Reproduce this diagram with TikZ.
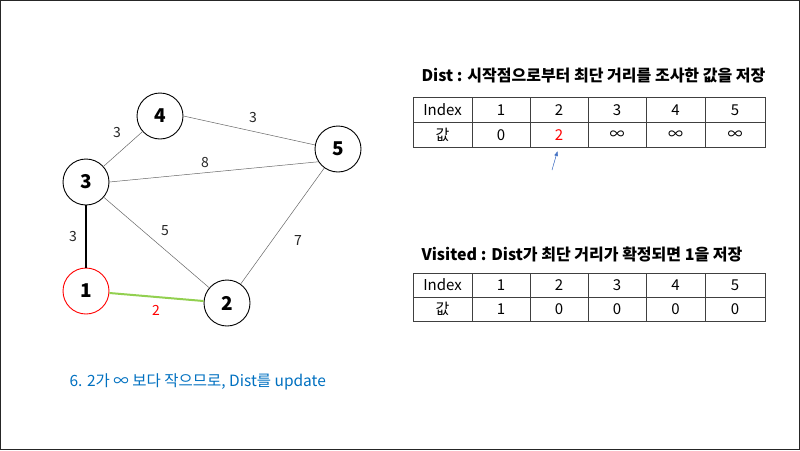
\documentclass[tikz,border=0pt]{standalone}
\usepackage{fontspec}
\setmainfont{Noto Sans CJK KR}
\usetikzlibrary{arrows.meta}
\definecolor{lgreen}{RGB}{146,208,80}
\definecolor{capblue}{RGB}{0,112,192}
\definecolor{arrblue}{RGB}{68,114,196}
\begin{document}
\begin{tikzpicture}[x=1pt,y=-1pt,
  vtx/.style={circle,draw=black,line width=0.9pt,minimum size=46pt,inner sep=0pt,font=\fontsize{19}{19}\selectfont\bfseries,fill=white},
  edge/.style={draw=black!60,line width=0.5pt},
  elab/.style={font=\fontsize{14}{14}\selectfont,text=black!85},
  ttl/.style={font=\fontsize{16}{16}\selectfont\bfseries,anchor=west},
  cell/.style={font=\fontsize{15}{15}\selectfont},
  grid/.style={draw=black!75,line width=0.9pt}]
\useasboundingbox (0,0) rectangle (800,450);
\draw[line width=1.2pt,black!85] (0.6,0.6) rectangle (799.4,449.4);
% graph
\node[vtx] (n4) at (160,116) {4};
\node[vtx] (n5) at (338,149) {5};
\node[vtx] (n3) at (86,182) {3};
\node[vtx,draw=red] (n1) at (86,291) {1};
\node[vtx] (n2) at (227,303) {2};
\draw[edge] (n3) -- (n4);
\draw[edge] (n4.east) -- (n5.170);
\draw[edge] (n3.east) -- (n5.213);
\draw[edge] (n3) -- (n2);
\draw[edge] (n5) -- (n2);
\draw[line width=1.8pt,black] (n3) -- (n1);
\draw[line width=2pt,lgreen] (n1) -- (n2);
\node[elab] (l43) at (117,133) {3};
\node[elab] (l45) at (253,118) {3};
\node[elab] (l35) at (205,163) {8};
\node[elab] (l32) at (165,231) {5};
\node[elab] (l52) at (298,241) {7};
\node[elab] (l31) at (73,237) {3};
\node[elab,text=red] (l12) at (156,310) {2};
% table 1
\node[ttl] (t1) at (418,76) {Dist : 시작점으로부터 최단 거리를 조사한 값을 저장};
\draw[grid] (413,97) rectangle (765,147);
\draw[grid] (413,122) -- (765,122);
\foreach \x in {472,530,588,646,705} \draw[grid] (\x,97) -- (\x,147);
\node[cell] at (442.5,110) {Index};
\node[cell] at (442.5,135) {값};
\foreach \i/\x in {1/501,2/559,3/617,4/675.5,5/735} \node[cell] at (\x,110) {\i};
\node[cell] at (501,135) {0};
\node[cell,text=red] (d2) at (559,135) {2};
\node[cell] at (617,135) {∞};
\node[cell] at (675.5,135) {∞};
\node[cell] at (735,135) {∞};
\coordinate (arrS) at (552,170);
\coordinate (arrE) at (557.5,151);
\draw[-{Latex[length=5pt,width=4pt]},line width=0.5pt,draw=arrblue,fill=arrblue] (arrS) -- (arrE);
% table 2
\node[ttl] (t2) at (418,254) {Visited : Dist가 최단 거리가 확정되면 1을 저장};
\draw[grid] (413,273) rectangle (765,321);
\draw[grid] (413,297) -- (765,297);
\foreach \x in {472,530,588,646,705} \draw[grid] (\x,273) -- (\x,321);
\node[cell] at (442.5,285) {Index};
\node[cell] at (442.5,309) {값};
\foreach \i/\x in {1/501,2/559,3/617,4/675.5,5/735} \node[cell] at (\x,285) {\i};
\foreach \v/\x in {1/501,0/559,0/617,0/675.5,0/735} \node[cell] at (\x,309) {\v};
% caption
\node[anchor=west,font=\fontsize{15.5}{15.5}\selectfont,text=capblue] (cap) at (66,382) {6. 2가 ∞ 보다 작으므로, Dist를 update};
\end{tikzpicture}
\end{document}
